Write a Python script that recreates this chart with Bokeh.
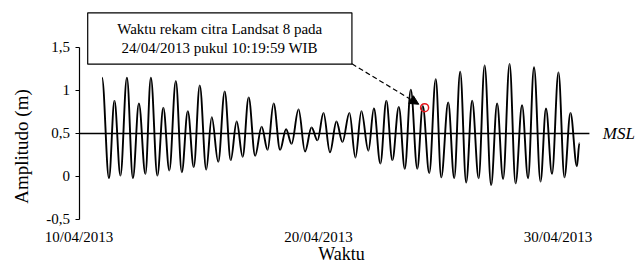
import math
from bokeh.plotting import figure
from bokeh.models import FixedTicker, Label, Arrow, NormalHead, ColumnDataSource, BoxAnnotation, LinearAxis
from bokeh.embed import file_html
from bokeh.resources import INLINE

# ---- data (hours since 10/04/2013 00:00, water level in m) : successive highs / lows
tide_hours = [23, 30, 35.5, 41.5, 48, 54, 60, 66.5, 72, 78.5, 84.5, 90.5, 97, 103, 109, 115,
              121, 127.5, 133, 139.5, 146, 152, 158, 164, 170, 176.5, 183, 189, 195, 201.5,
              207.5, 213, 220, 226.5, 233, 239, 245, 251.5, 258, 264, 271, 277, 283, 290,
              295.5, 302, 308, 314, 320.5, 326.5, 332.5, 339, 344.5, 351, 357.5, 363, 370,
              376, 382, 388, 394, 400.5, 406.5, 413, 419, 425, 431.5, 437.5, 444, 450, 456,
              462.5, 468, 474, 480.5, 486.5, 492.5, 499, 501.5]
tide_level = [1.15, -0.02, 0.88, 0.01, 1.15, -0.02, 0.85, 0.03, 1.15, 0.01, 0.80, 0.07, 1.11,
              0.05, 0.76, 0.11, 1.06, 0.08, 0.69, 0.17, 0.99, 0.19, 0.64, 0.23, 0.92, 0.24,
              0.58, 0.31, 0.85, 0.31, 0.55, 0.38, 0.78, 0.29, 0.57, 0.42, 0.74, 0.28, 0.64,
              0.40, 0.74, 0.22, 0.76, 0.30, 0.79, 0.15, 0.88, 0.19, 0.81, 0.09, 1.01, 0.09,
              0.82, 0.04, 1.13, -0.01, 0.86, -0.02, 1.22, -0.07, 0.88, -0.02, 1.29, -0.10,
              0.85, -0.03, 1.31, -0.08, 0.83, -0.02, 1.27, -0.06, 0.79, 0.03, 1.21, -0.01,
              0.74, 0.12, 0.39]

x_tick_hours = [0, 240, 480]
x_tick_labels = ["10/04/2013", "20/04/2013", "30/04/2013"]
y_ticks = [-0.5, 0, 0.5, 1, 1.5]
y_tick_labels = ["-0,5", "0", "0,5", "1", "1,5"]

msl_level = 0.5
msl_start_hour = 0
msl_end_hour = 511.5

landsat_hour = 14 * 24 + 10 + 19 / 60 + 59 / 3600   # 24/04/2013 10:19:59
landsat_level = 0.80
note_lines = ["Waktu rekam citra Landsat 8 pada", "24/04/2013 pukul 10:19:59 WIB"]

FONT = "Liberation Serif"

p = figure(width=636, height=264, x_range=(-78.7, 558.7), y_range=(-1.0233, 2.0465),
           output_backend="svg", toolbar_location=None,
           x_axis_location=None, y_axis_location=None,
           min_border_left=0, min_border_right=0, min_border_top=0, min_border_bottom=0)
p.outline_line_color = None
p.background_fill_color = "white"
p.border_fill_color = "white"

# y axis (drawn at the start of the time axis)
ya = LinearAxis(fixed_location=0)
ya.ticker = FixedTicker(ticks=y_ticks)
ya.major_label_overrides = {t: s for t, s in zip(y_ticks, y_tick_labels)}
ya.bounds = (y_ticks[0], y_ticks[-1])
ya.axis_line_color = "black"
ya.axis_line_width = 1.2
ya.major_tick_line_color = "black"
ya.major_tick_line_width = 1.2
ya.major_tick_out = 4
ya.major_tick_in = 0
ya.minor_tick_line_color = None
ya.major_label_text_font = FONT
ya.major_label_text_font_size = "15px"
ya.major_label_text_color = "black"
ya.major_label_standoff = 5
p.add_layout(ya, "left")

# x axis (labels only, sitting at the bottom of the value axis)
xa = LinearAxis(fixed_location=y_ticks[0])
xa.ticker = FixedTicker(ticks=x_tick_hours)
xa.major_label_overrides = {t: s for t, s in zip(x_tick_hours, x_tick_labels)}
xa.axis_line_color = None
xa.major_tick_line_color = None
xa.minor_tick_line_color = None
xa.major_tick_out = 0
xa.major_tick_in = 0
xa.major_label_text_font = FONT
xa.major_label_text_font_size = "15px"
xa.major_label_text_color = "black"
xa.major_label_standoff = 10
p.add_layout(xa, "below")

p.xgrid.visible = False
p.ygrid.visible = False

# MSL line
p.segment(x0=[msl_start_hour], y0=[msl_level], x1=[msl_end_hour], y1=[msl_level],
          line_color="black", line_width=1.5)

# tide curve: smooth segments between successive extremes
k = 0.36
x0 = tide_hours[:-1]
x1 = tide_hours[1:]
y0 = tide_level[:-1]
y1 = tide_level[1:]
cx0 = [a + k * (b - a) for a, b in zip(x0, x1)]
cx1 = [b - k * (b - a) for a, b in zip(x0, x1)]
src = ColumnDataSource(dict(x0=x0, y0=y0, x1=x1, y1=y1, cx0=cx0, cy0=y0, cx1=cx1, cy1=y1))
p.bezier(x0="x0", y0="y0", x1="x1", y1="y1", cx0="cx0", cy0="cy0", cx1="cx1", cy1="cy1",
         source=src, line_color="black", line_width=1.9)

# Landsat marker
p.scatter(x=[landsat_hour], y=[landsat_level], size=8, marker="circle",
          fill_color=None, line_color="#e8161b", line_width=1.5)

# note box
box = BoxAnnotation(left=8.7, right=273.5, top=1.903, bottom=1.306,
                    fill_color="white", fill_alpha=1, line_color="black", line_alpha=1,
                    line_width=1.2, level="underlay")
p.add_layout(box)
p.add_layout(Label(x=141, y=1.713, text=note_lines[0], text_font=FONT, text_font_size="15px",
                   text_align="center", text_baseline="middle", text_color="black",
                   level="overlay"))
p.add_layout(Label(x=141, y=1.492, text=note_lines[1], text_font=FONT, text_font_size="15px",
                   text_align="center", text_baseline="middle", text_color="black",
                   level="overlay"))

p.add_layout(Arrow(x_start=273.5, y_start=1.31, x_end=340.5, y_end=0.84,
                   line_color="black", line_width=1.2, line_dash="5 3",
                   end=NormalHead(size=9, fill_color="black", line_color="black")))

# MSL text
p.add_layout(Label(x=525, y=msl_level, text="MSL", text_font=FONT, text_font_style="italic",
                   text_font_size="17px", text_baseline="middle", text_align="left",
                   text_color="black"))

# axis titles
p.add_layout(Label(x=-57.6, y=0.349, text="Amplitudo (m)", text_font=FONT, text_font_size="19px",
                   angle=math.pi / 2, text_align="center", text_baseline="middle",
                   text_color="black"))
p.add_layout(Label(x=263, y=-0.9, text="Waktu", text_font=FONT, text_font_size="18px",
                   text_align="center", text_baseline="middle", text_color="black"))

open("out.html", "w").write(file_html(p, INLINE))
